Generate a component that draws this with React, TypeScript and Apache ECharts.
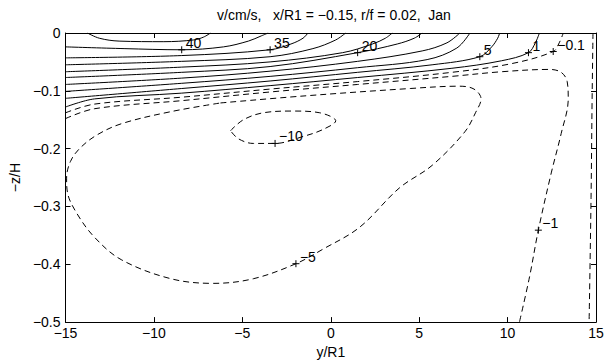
import React, { useEffect, useRef } from "react";
import * as echarts from "echarts";

// Axis ticks
const xTicks = [-15, -10, -5, 0, 5, 10, 15];
const yTicks = [0, -0.1, -0.2, -0.3, -0.4, -0.5];

// Contour lines: [y/R1, -z/H]
const c45 = [[-13.76, 0], [-13.09, -0.009], [-11.97, -0.014], [-9.44, -0.015], [-7.75, -0.012], [-7.19, -0.007], [-6.8, 0]];
const c40 = [[-15, -0.024], [-11.69, -0.027], [-8.43, -0.029], [-6.07, -0.024], [-4.66, -0.014], [-3.93, -0.005], [-3.54, 0]];
const c35 = [[-15, -0.043], [-8.43, -0.039], [-3.43, -0.029], [-2.25, -0.019], [-1.57, -0.009], [-1.29, 0]];
const c30 = [[-15, -0.055], [-8.43, -0.049], [-3.43, -0.041], [-1.01, -0.027], [0.28, -0.012], [0.84, 0]];
const c25 = [[-15, -0.067], [-8.43, -0.059], [-3.43, -0.05], [0.67, -0.034], [2.36, -0.019], [3.09, -0.009], [3.48, 0]];
const c20 = [[-15, -0.077], [-8.43, -0.068], [-3.43, -0.058], [1.52, -0.034], [3.76, -0.019], [4.72, -0.009], [5.17, 0]];
const c15 = [[-15, -0.089], [-8.43, -0.078], [-3.43, -0.066], [1.52, -0.049], [5.17, -0.031], [6.57, -0.017], [7.3, 0]];
const c10 = [[-15, -0.101], [-8.43, -0.087], [-3.43, -0.075], [1.52, -0.06], [5.45, -0.046], [7.13, -0.026], [7.87, 0]];
const c5 = [[-15, -0.113], [-8.43, -0.096], [-3.43, -0.083], [1.52, -0.068], [5.73, -0.055], [8.43, -0.041], [9.1, -0.024], [9.44, -0.009], [9.55, 0]];
const c1 = [[-15, -0.128], [-13.37, -0.114], [-8.43, -0.104], [-3.43, -0.091], [1.52, -0.077], [6.85, -0.061], [9.66, -0.048], [11.18, -0.034], [11.57, -0.017], [11.8, 0]];
const cm01 = [[-15, -0.138], [-13.37, -0.123], [-8.43, -0.111], [-3.43, -0.097], [1.52, -0.084], [6.85, -0.068], [10.22, -0.053], [12.58, -0.032], [12.92, -0.017], [13.15, 0]];
const cm01East = [[14.83, 0], [14.78, -0.114], [14.72, -0.285], [14.61, -0.5]];
const cm1 = [[-15, -0.148], [-13.37, -0.131], [-8.43, -0.117], [-3.43, -0.102], [1.52, -0.089], [6.85, -0.075], [9.66, -0.067], [12.36, -0.063], [13.03, -0.068], [13.37, -0.084], [13.43, -0.114], [13.03, -0.174], [12.47, -0.242], [11.74, -0.341], [11.24, -0.422], [10.67, -0.5]];
const cm5 = [[-6.24, -0.121], [-1.57, -0.109], [4.49, -0.096], [7.25, -0.092], [8.1, -0.097], [8.5, -0.114], [8.2, -0.137], [7.58, -0.171], [5.73, -0.229], [3.88, -0.268], [1.63, -0.336], [-0.45, -0.374], [-1.97, -0.399], [-4.38, -0.425], [-6.63, -0.433], [-9.04, -0.425], [-11.85, -0.392], [-13.37, -0.353], [-14.38, -0.311], [-14.89, -0.276], [-14.94, -0.251], [-14.72, -0.222], [-14.21, -0.2], [-13.26, -0.177], [-11.85, -0.157], [-9.04, -0.136], [-6.24, -0.121]];
const cm10 = [[-5.67, -0.169], [-4.94, -0.15], [-3.82, -0.138], [-2.13, -0.135], [-0.62, -0.138], [0.28, -0.152], [-0.45, -0.167], [-1.57, -0.179], [-3.15, -0.191], [-4.38, -0.191], [-5.22, -0.183], [-5.67, -0.169]];

const solidContours = [c45, c40, c35, c30, c25, c20, c15, c10, c5, c1];
const dashedContours = [cm01, cm01East, cm1, cm5, cm10];

// Contour label points and texts
const labelPoints = [[-8.43, -0.029], [-3.43, -0.029], [1.52, -0.034], [8.43, -0.041], [11.18, -0.034], [12.58, -0.032], [-3.15, -0.191], [-1.97, -0.399], [11.74, -0.341]];
const labelTexts = ["40", "35", "20", "5", "1", "\u22120.1", "\u221210", "\u22125", "\u22121"];

const titleText = "v/cm/s,   x/R1 = \u22120.15, r/f = 0.02,  Jan";
const FONT = "'Liberation Sans', Arial, Helvetica, sans-serif";

const fmt = (v: number) => {
  const r = Number(v.toFixed(1));
  if (r === 0) return "0";
  return String(r).replace("-", "\u2212");
};

export default function App() {
  const ref = useRef<HTMLDivElement>(null);
  useEffect(() => {
    if (!ref.current) return;
    const chart = echarts.init(ref.current, undefined, { renderer: "svg" });
    const axisLine = { show: true, onZero: false, lineStyle: { color: "#000", width: 1 } };
    const axisTick = { show: true, inside: true, length: 5, lineStyle: { color: "#000", width: 1 } };
    const textStyle = { color: "#000", fontSize: 14, fontFamily: FONT };
    const series: any[] = [];
    solidContours.forEach((c) =>
      series.push({
        type: "line", data: c, smooth: 0.35, symbol: "none", silent: true,
        color: "#000",
        lineStyle: { color: "#000", width: 1, type: "solid" },
      })
    );
    dashedContours.forEach((c) =>
      series.push({
        type: "line", data: c, smooth: 0.35, symbol: "none", silent: true,
        color: "#000",
        lineStyle: { color: "#000", width: 1, type: [6, 4] },
      })
    );
    series.push({
      type: "custom",
      data: labelPoints,
      silent: true,
      z: 5,
      renderItem: (params: any, api: any) => {
        const p = api.coord([api.value(0), api.value(1)]);
        return {
          type: "group",
          children: [
            { type: "line", shape: { x1: p[0] - 3.5, y1: p[1], x2: p[0] + 3.5, y2: p[1] }, style: { stroke: "#000", lineWidth: 1 } },
            { type: "line", shape: { x1: p[0], y1: p[1] - 3.5, x2: p[0], y2: p[1] + 3.5 }, style: { stroke: "#000", lineWidth: 1 } },
            {
              type: "text",
              x: p[0] + 4,
              y: p[1] - 7,
              style: {
                text: labelTexts[params.dataIndex],
                fill: "#000",
                font: `14px ${FONT}`,
                align: "left",
                verticalAlign: "middle",
              },
            },
          ],
        };
      },
    });
    chart.setOption({
      animation: false,
      backgroundColor: "#fff",
      color: ["#000"],
      title: {
        text: titleText,
        left: 329,
        top: 3,
        textAlign: "center",
        textStyle: { ...textStyle, fontWeight: "normal" },
      },
      grid: { left: 62, right: 13, top: 33, bottom: 38, show: false },
      xAxis: [
        {
          type: "value", min: xTicks[0], max: xTicks[xTicks.length - 1], interval: 5, position: "bottom",
          axisLine, axisTick, splitLine: { show: false },
          axisLabel: { ...textStyle, margin: 4, formatter: fmt },
          name: "y/R1", nameLocation: "middle", nameGap: 19, nameTextStyle: textStyle,
        },
        {
          type: "value", min: xTicks[0], max: xTicks[xTicks.length - 1], interval: 5, position: "top",
          axisLine, axisTick, splitLine: { show: false }, axisLabel: { show: false },
        },
      ],
      yAxis: [
        {
          type: "value", min: yTicks[yTicks.length - 1], max: yTicks[0], interval: 0.1, position: "left",
          axisLine, axisTick, splitLine: { show: false },
          axisLabel: { ...textStyle, margin: 5, formatter: fmt },
          name: "\u2212z/H", nameLocation: "middle", nameGap: 34, nameRotate: 90, nameTextStyle: textStyle,
        },
        {
          type: "value", min: yTicks[yTicks.length - 1], max: yTicks[0], interval: 0.1, position: "right",
          axisLine, axisTick, splitLine: { show: false }, axisLabel: { show: false },
        },
      ],
      series,
    });
    return () => chart.dispose();
  }, []);
  return <div ref={ref} style={{ position: "fixed", left: 0, top: 0, width: 609, height: 364 }} />;
}
